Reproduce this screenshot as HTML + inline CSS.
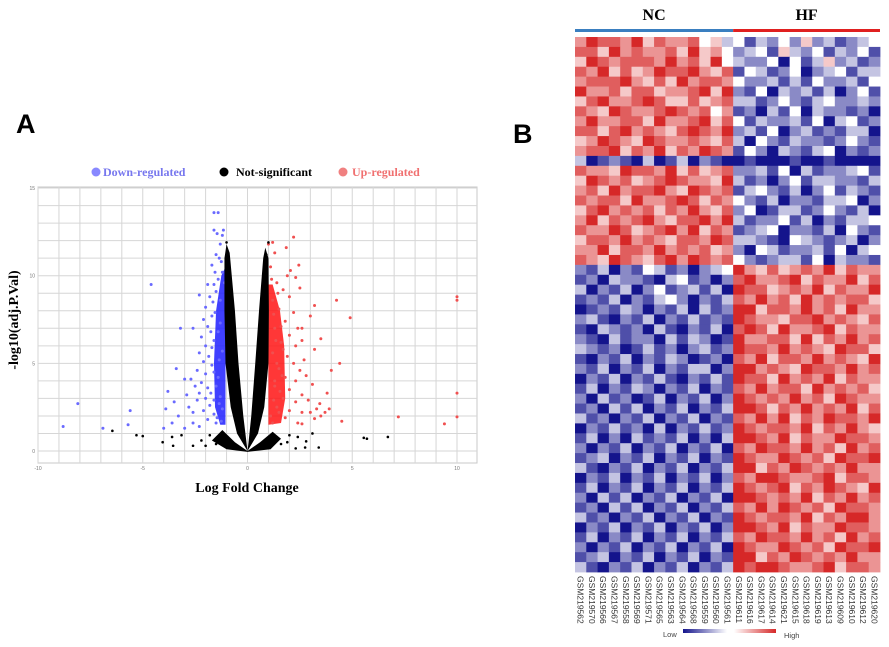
<!DOCTYPE html>
<html><head><meta charset="utf-8"><style>
body{margin:0;background:#fff;width:889px;height:647px;overflow:hidden}
svg{display:block}
</style></head><body>
<svg id="fig" width="889" height="647" viewBox="0 0 889 647">
<text x="16" y="133" font-family="Liberation Sans, sans-serif" font-weight="bold" font-size="27">A</text>
<text x="513" y="143" font-family="Liberation Sans, sans-serif" font-weight="bold" font-size="27">B</text>
<g id="volcano"></g>
<g id="heat"></g>
</svg>
<script>
// ---------- Volcano data ----------
const downPoints=[[-8.8,1.4],[-8.1,2.7],[-6.9,1.3],[-5.6,2.3],[-5.7,1.5],[-4.6,9.5],[-3.2,7.0],[-2.6,7.0],[-3.4,4.7],[-3.0,4.1],[-3.8,3.4],[-3.9,2.4],[-3.5,2.8],[-4.0,1.3],[-3.0,1.3],[-2.3,8.9],[-2.7,4.1],[-2.8,2.5],[-2.3,3.3],[-1.6,13.6],[-1.4,13.6],[-1.6,12.6],[-1.15,12.6],[-1.3,11.8],[-1.2,12.3],[-1.45,12.4],[-1.5,11.2],[-1.7,10.6],[-1.25,10.8],[-1.9,9.5],[-1.8,8.8],[-2.0,8.2],[-1.65,8.5],[-1.4,9.8],[-2.1,7.5],[-1.9,7.1],[-2.2,6.5],[-1.75,6.8],[-2.0,6.0],[-1.6,6.3],[-2.3,5.6],[-2.1,5.1],[-1.85,5.4],[-2.4,4.6],[-2.0,4.4],[-1.7,4.9],[-2.2,3.9],[-1.9,3.6],[-2.5,3.7],[-2.0,3.0],[-1.8,2.6],[-2.4,2.9],[-2.1,2.3],[-1.6,2.1],[-2.6,2.2],[-1.9,1.8],[-1.5,1.6],[-2.3,1.4],[-1.7,7.7],[-1.5,9.1],[-1.3,7.3],[-1.2,5.7],[-1.4,4.2],[-1.3,3.1],[-1.2,2.4],[-1.45,1.9],[-1.1,9.6],[-1.55,10.2],[-2.6,1.6],[-3.3,2.0],[-3.6,1.6],[-2.9,3.2],[-1.35,11.0],[-1.2,10.2],[-1.6,9.5],[-1.3,8.6],[-1.55,7.9],[-1.4,6.8],[-1.7,5.9],[-1.35,5.2],[-1.6,4.5],[-1.5,3.7],[-1.75,3.3],[-1.35,2.7],[-1.6,2.9],[-1.25,1.7]];
const upPoints=[[1.0,11.8],[1.2,11.9],[2.2,12.2],[1.85,11.6],[1.3,11.3],[2.45,10.6],[2.05,10.3],[2.3,9.9],[3.2,8.3],[4.25,8.6],[4.9,7.6],[10,8.8],[10,8.6],[10,3.3],[10,1.95],[9.4,1.55],[7.2,1.95],[4.5,1.7],[4.4,5.0],[4.0,4.6],[3.5,6.4],[3.2,5.8],[3.0,7.7],[3.8,3.3],[3.9,2.4],[3.45,2.7],[3.1,3.8],[3.5,2.0],[3.2,1.85],[2.6,1.55],[2.7,5.2],[2.6,7.0],[2.5,9.3],[1.9,10.0],[1.1,10.5],[1.4,9.6],[1.7,9.2],[2.0,8.8],[1.2,8.6],[1.5,8.1],[2.2,7.9],[1.8,7.4],[2.4,7.0],[1.3,7.0],[2.0,6.6],[1.6,6.2],[2.3,6.0],[2.6,6.3],[1.2,5.6],[1.9,5.4],[2.2,5.0],[2.5,4.6],[1.5,4.7],[1.8,4.2],[2.3,4.0],[2.8,4.3],[1.3,3.7],[2.0,3.5],[2.6,3.2],[1.7,3.0],[2.3,2.8],[2.9,2.9],[1.4,2.5],[2.0,2.3],[2.6,2.2],[1.8,1.9],[2.4,1.6],[1.2,1.6],[3.0,2.2],[3.3,2.4],[3.7,2.2],[1.15,9.8],[1.45,9.0],[1.25,7.8],[1.6,7.1],[1.35,6.3],[1.7,5.8],[1.4,5.0],[1.65,4.3],[1.3,4.0],[1.55,3.4],[1.25,2.9],[1.5,2.2],[1.1,2.0]];
const nsOutliers=[[-6.45,1.15],[-5.3,0.9],[-5.0,0.85],[-4.05,0.5],[-3.6,0.8],[-3.55,0.3],[-3.15,0.9],[-2.6,0.3],[-2.2,0.6],[-1.8,0.9],[-1.5,0.4],[-2.0,0.3],[-1.2,0.6],[5.55,0.75],[5.7,0.7],[6.7,0.8],[3.4,0.2],[2.75,0.2],[2.3,0.15],[2.8,0.55],[2.0,0.9],[1.6,0.4],[3.1,1.0],[1.9,0.5],[1.3,0.7],[2.4,0.8],[1.0,11.9],[0.9,11.2],[-1.0,11.9],[-0.95,11.3]];
const nsLeftArm=[[0,0],[-0.5,1],[-0.8,2.5],[-1.05,5],[-1.1,8],[-1.1,11],[-1.0,11.8],[-0.85,11.3],[-0.6,8],[-0.43,5],[-0.2,2],[-0.05,0.5]];
const nsRightArm=[[0,0],[0.5,1],[0.8,2.5],[1.0,5],[1.02,8],[1.0,11],[0.85,11.6],[0.75,11],[0.55,8],[0.37,5],[0.18,2],[0.05,0.5]];
const nsBase=[[-1.2,1.2],[-0.6,0.5],[0,0],[0.6,0.5],[1.2,1.1],[1.6,0.7],[1.1,0.1],[0,-0.05],[-1.0,0.1],[-1.7,0.6]];
const downDense=[[-1.05,10.5],[-1.25,10],[-1.5,8],[-1.6,5],[-1.55,2.5],[-1.3,1.5],[-1.05,1.5]];
const upDense=[[1.0,9.5],[1.2,9.5],[1.55,8],[1.75,6],[1.8,3],[1.6,1.6],[1.0,1.5]];
const xTicks=[-10,-5,0,5,10], yTicks=[0,5,10,15];

const NS='http://www.w3.org/2000/svg';
function mk(tag,attrs,parent){const e=document.createElementNS(NS,tag);for(const k in attrs)e.setAttribute(k,attrs[k]);parent.appendChild(e);return e;}
const X0=38,XS=20.95,YB=451,YS=17.53;
const xs=v=>X0+(v+10)*XS, ys=v=>YB-v*YS;
const V=document.getElementById('volcano');
let r=mk('rect',{x:38,y:187,width:439,height:276,fill:'#fff',stroke:'#c8c8c8'},V);


for(let i=-10;i<=10;i++){const l=mk('line',{x1:xs(i),x2:xs(i),y1:187,y2:463,stroke:'#d6d6d6','stroke-width':1},V);

}
for(let j=0;j<=15;j++){const l=mk('line',{x1:38,x2:477,y1:ys(j),y2:ys(j),stroke:'#d6d6d6','stroke-width':1},V);

}
xTicks.forEach(t=>{const e=mk('text',{x:xs(t),y:470,'font-size':5,'text-anchor':'middle',fill:'#777','font-family':'Liberation Sans, sans-serif'},V);e.textContent=t;

});
yTicks.forEach(t=>{const e=mk('text',{x:35,y:ys(t)+2,'font-size':5,'text-anchor':'end',fill:'#777','font-family':'Liberation Sans, sans-serif'},V);e.textContent=t;

});
function poly(arr,fill,name){const p=mk('polygon',{points:arr.map(a=>xs(a[0])+','+ys(a[1])).join(' '),fill:fill},V);

}
poly(downDense,'rgba(30,30,255,0.85)','down-dense-region');
poly(upDense,'rgba(255,20,20,0.85)','up-dense-region');
downPoints.forEach(d=>{const c=mk('circle',{cx:xs(d[0]),cy:ys(d[1]),r:1.5,fill:'#6a6aff'},V);

});
upPoints.forEach(d=>{const c=mk('circle',{cx:xs(d[0]),cy:ys(d[1]),r:1.5,fill:'#f05050'},V);

});
poly(nsLeftArm,'#000','not-significant-left');
poly(nsRightArm,'#000','not-significant-right');
poly(nsBase,'#000','not-significant-base');
nsOutliers.forEach(d=>{const c=mk('circle',{cx:xs(d[0]),cy:ys(d[1]),r:1.3,fill:'#000'},V);

});
// legend
const leg=[[96,'#8888ff','Down-regulated','#7777ee',103],[224,'#000','Not-significant','#000',236],[343,'#f08080','Up-regulated','#f07070',352]];
leg.forEach(l=>{const c=mk('circle',{cx:l[0],cy:172,r:4.5,fill:l[1]},V);


const t=mk('text',{x:l[4],y:176,'font-size':12,'font-weight':'bold',fill:l[3],'font-family':'Liberation Serif, serif'},V);t.textContent=l[2];

});
let tx=mk('text',{x:247,y:492,'font-size':14,'font-weight':'bold','text-anchor':'middle','font-family':'Liberation Serif, serif'},V);tx.textContent='Log Fold Change';


let ty=mk('text',{x:0,y:0,'font-size':14,'font-weight':'bold','text-anchor':'middle','font-family':'Liberation Serif, serif',transform:'translate(18,320) rotate(-90)'},V);ty.textContent='-log10(adj.P.Val)';



// ---------- Heatmap data ----------
const sampleLabels=['GSM219562','GSM219570','GSM219566','GSM219567','GSM219558','GSM219569','GSM219571','GSM219565','GSM219563','GSM219564','GSM219568','GSM219559','GSM219560','GSM219561','GSM219611','GSM219616','GSM219617','GSM219614','GSM219621','GSM219615','GSM219618','GSM219619','GSM219613','GSM219609','GSM219610','GSM219612','GSM219620'];
const groupLabels=['NC','HF'];
const groupSizes=[14,13];
const heatRows=[
"68776857667453 4132425231234","77586766758564 2341532413241","58767776867584 3224041352312","76857568778657 1431240234133",
"67778657586776 4223131422314","86675775667858 2140323130241","57866787557567 3312421342232","76587667876746 1203140322120",
"68667758667857 4132231403412","77578676578768 2314023121330","56876587667657 3042132212421","67785768576876 1420321340212",
"30121030130210 0100010010000","76658776857567 2231403122341","58767567876658 3120241332213","67586778658767 1342130241321",
"76775866787576 4213022133402","57867675768657 2401331242130","68576786577868 3122413021334","76687567868576 1234022130421",
"57768676577687 3321043212302","66857768676756 2043122314034","76587657868767 4212331403221",
"21302143120234 8657567685766","12032210341202 7866785766857","30213024123130 8775676857668","12130213420213 7686758676775",
"01213202130312 8857768675866","23102130213121 8766577867657","10321203102130 7875866785766","21031220313201 8667758576867",
"32120131202312 8776867658775","10213021320120 7685776867658","21302130213302 8867658776867","02130213102131 8775867685766",
"13021320213021 7686775867675","20312013021302 8767686758766","12031302130213 8875768676857","31202130213021 7686857687768",
"02131203021312 8767768576865","13020312130203 8876857668776","20213021302130 7687768675867","12302130213021 8766876758778",
"31021302130213 8857687676866","02130213021302 7688766785776","13021302130213 8767857687658","20313021302130 8876768576867",
"12031302130213 7686876758776","31202130213021 8767768576886","02130213021302 8876857668776","13021302130213 7687768675867",
"20213021302130 8766876758778","12302130213021 8857687676866","31021302130213 8788766785776"];
const legendLabels=['Low','High'];

const H=document.getElementById('heat');
const HX=575,HY=37,HW=305,HH=535;
const nCols=sampleLabels.length, cw=HW/nCols, rh=HH/heatRows.length;
function col(v){const t=v/8;let a,b,f;
 if(t<0.5){a=[20,20,140];b=[255,255,255];f=t/0.5;}else{a=[255,255,255];b=[214,40,40];f=(t-0.5)/0.5;}
 return 'rgb('+a.map((c,i)=>Math.round(c+(b[i]-c)*f)).join(',')+')';}
heatRows.forEach((row,ri)=>{const vals=row.replace(/ /g,'').split('').map(Number);
 vals.forEach((v,ci)=>{const c=mk('rect',{x:HX+ci*cw,y:HY+ri*rh,width:cw+0.4,height:rh+0.4,fill:col(v)},H);
 
 });});
let start=0;groupSizes.forEach((n,gi)=>{const x1=HX+start*cw,x2=HX+(start+n)*cw;
 const b=mk('rect',{x:x1,y:29,width:x2-x1,height:3,fill:gi?'#e02020':'#3a7fc0'},H);
 
 
 const t=mk('text',{x:(x1+x2)/2,y:20,'font-size':16,'font-weight':'bold','text-anchor':'middle','font-family':'Liberation Serif, serif'},H);t.textContent=groupLabels[gi];
 
 
 start+=n;});
sampleLabels.forEach((s,i)=>{const t=mk('text',{x:0,y:0,'font-size':8.5,fill:'#333','font-family':'Liberation Sans, sans-serif',transform:'translate('+(HX+i*cw+cw/2-3)+',576) rotate(90)'},H);t.textContent=s;
 
 });
const defs=mk('defs',{},H);
const g1=mk('linearGradient',{id:'gb'},defs);mk('stop',{offset:'0','stop-color':'#14148c'},g1);mk('stop',{offset:'1','stop-color':'#fff'},g1);
const g2=mk('linearGradient',{id:'gr'},defs);mk('stop',{offset:'0','stop-color':'#fff'},g2);mk('stop',{offset:'1','stop-color':'#d62828'},g2);
let lb=mk('rect',{x:683,y:629,width:44,height:4,fill:'url(#gb)'},H);


let lr=mk('rect',{x:734,y:629,width:42,height:4,fill:'url(#gr)'},H);


let t1=mk('text',{x:663,y:637,'font-size':7.5,fill:'#444','font-family':'Liberation Sans, sans-serif'},H);t1.textContent=legendLabels[0];


let t2=mk('text',{x:784,y:638,'font-size':7.5,fill:'#444','font-family':'Liberation Sans, sans-serif'},H);t2.textContent=legendLabels[1];


</script>
</body></html>
